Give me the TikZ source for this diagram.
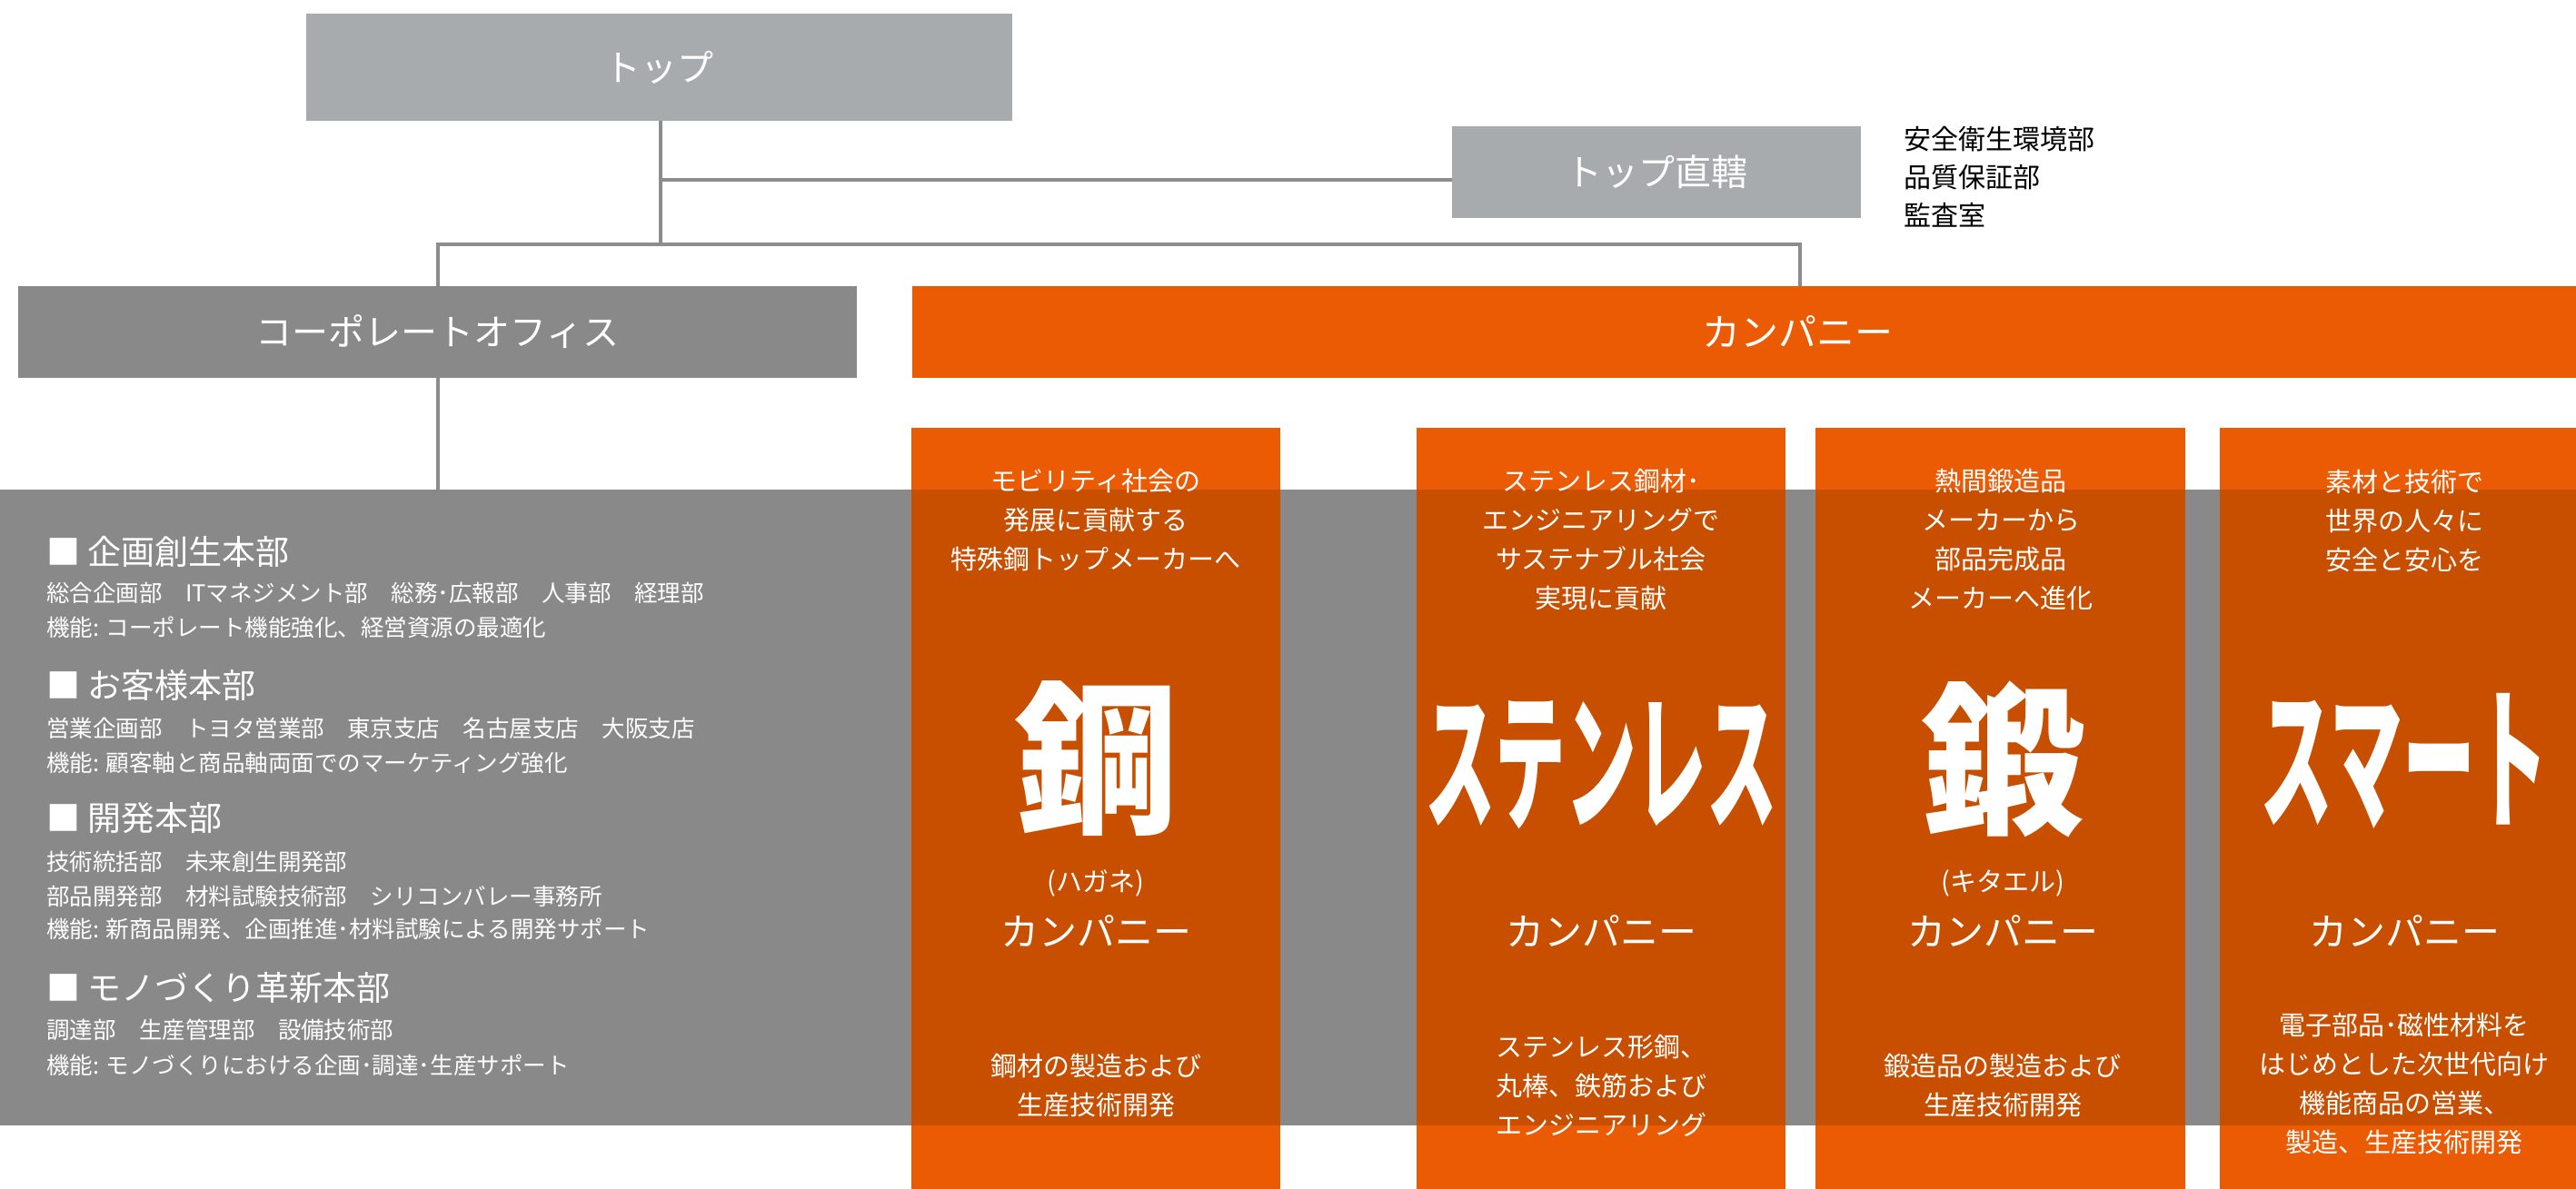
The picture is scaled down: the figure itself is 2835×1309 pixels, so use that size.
\documentclass[tikz,border=0pt]{standalone}
\usepackage{fontspec}
\setmainfont{Noto Sans CJK JP}
\definecolor{topgray}{HTML}{A7ABAE}
\definecolor{corpgray}{HTML}{898989}
\definecolor{linegray}{HTML}{8C8C8C}
\definecolor{orng}{HTML}{EA5B04}
\definecolor{darkorng}{HTML}{C84F00}
\tikzset{
  boxnode/.style={inner sep=0pt, outer sep=0pt, text=white},
  txt/.style={inner sep=0pt, outer sep=0pt, text=white},
  conn/.style={draw=linegray, line width=4pt},
  hd/.style={txt, anchor=west, font=\fontsize{37}{44}\selectfont},
  bd/.style={txt, anchor=west, font=\fontsize{25.5}{30}\selectfont},
  coltxt/.style={txt, align=center, font=\fontsize{29}{43}\selectfont},
  colname/.style={txt, font=\fontsize{42}{48}\selectfont},
  kana/.style={txt, font=\fontsize{29}{34}\selectfont},
  bigtxt/.style={txt, font=\fontsize{180}{180}\selectfont\bfseries},
}
\begin{document}
\begin{tikzpicture}[x=1pt,y=-1pt]
\useasboundingbox (0,0) rectangle (2835,1309);
\fill[white] (0,0) rectangle (2835,1309);

% top level boxes
\node[boxnode, fill=topgray, minimum width=777pt, minimum height=118pt,
  font=\fontsize{40}{48}\selectfont] (top) at (725.5,74) {トップ};
\node[boxnode, fill=topgray, minimum width=450pt, minimum height=101pt,
  font=\fontsize{40}{48}\selectfont] (direct) at (1823,189.5) {トップ直轄};
\node[boxnode, fill=corpgray, minimum width=923pt, minimum height=101pt,
  font=\fontsize{40}{48}\selectfont] (corp) at (481.5,365.5) {コーポレートオフィス};
\node[boxnode, fill=orng, minimum width=1831pt, minimum height=101pt] (comp) at (1919.5,365.5) {};
\node[txt, font=\fontsize{42}{48}\selectfont] (comptxt) at (1978,365.5) {カンパニー};

% list beside direct
\node[txt, text=black, anchor=west, font=\fontsize{30}{36}\selectfont] (d1) at (2095,153) {安全衛生環境部};
\node[txt, text=black, anchor=west, font=\fontsize{30}{36}\selectfont] (d2) at (2095,195) {品質保証部};
\node[txt, text=black, anchor=west, font=\fontsize{30}{36}\selectfont] (d3) at (2095,237) {監査室};

% gray panel
\node[boxnode, fill=corpgray, minimum width=2835pt, minimum height=700pt] (panel) at (1417.5,889) {};

% company columns
\node[boxnode, fill=orng, minimum width=406pt, minimum height=838pt] (c1) at (1206,890) {};
\node[boxnode, fill=orng, minimum width=406pt, minimum height=838pt] (c2) at (1762,890) {};
\node[boxnode, fill=orng, minimum width=407pt, minimum height=838pt] (c3) at (2201.5,890) {};
\node[boxnode, fill=orng, minimum width=392pt, minimum height=838pt] (c4) at (2639,890) {};
\fill[darkorng] (c1.west |- panel.north) rectangle (c1.east |- panel.south);
\fill[darkorng] (c2.west |- panel.north) rectangle (c2.east |- panel.south);
\fill[darkorng] (c3.west |- panel.north) rectangle (c3.east |- panel.south);
\fill[darkorng] (c4.west |- panel.north) rectangle (c4.east |- panel.south);

% connectors
\coordinate (j0) at (727,198);
\coordinate (j1) at (727,269);
\coordinate (cj) at (1981,269);
\draw[conn] (top.south -| j0) -- (j1);
\draw[conn] (j0) -- (j0 -| direct.west);
\draw[conn, line join=miter] (corp.north) |- (cj) -- (cj |- comp.north);
\draw[conn] (corp.south) -- (corp.south |- panel.north);

% left panel text
\node[hd] (h1) at (51,607) {■ 企画創生本部};
\node[bd] (h1a) at (51,653) {総合企画部　ITマネジメント部　総務･広報部　人事部　経理部};
\node[bd] (h1b) at (51,691) {機能: コーポレート機能強化、経営資源の最適化};
\node[hd] (h2) at (51,754) {■ お客様本部};
\node[bd] (h2a) at (51,802) {営業企画部　トヨタ営業部　東京支店　名古屋支店　大阪支店};
\node[bd] (h2b) at (51,840) {機能: 顧客軸と商品軸両面でのマーケティング強化};
\node[hd] (h3) at (51,901) {■ 開発本部};
\node[bd] (h3a) at (51,949) {技術統括部　未来創生開発部};
\node[bd] (h3b) at (51,987) {部品開発部　材料試験技術部　シリコンバレー事務所};
\node[bd] (h3c) at (51,1023) {機能: 新商品開発、企画推進･材料試験による開発サポート};
\node[hd] (h4) at (51,1087) {■ モノづくり革新本部};
\node[bd] (h4a) at (51,1134) {調達部　生産管理部　設備技術部};
\node[bd] (h4b) at (51,1173) {機能: モノづくりにおける企画･調達･生産サポート};

% column 1
\node[coltxt] (c1t) at (1206,573) {モビリティ社会の\\発展に貢献する\\特殊鋼トップメーカーへ};
\node[bigtxt] (c1b) at (1206,835) {鋼};
\node[kana] (c1k) at (1206,972) {(ハガネ)};
\node[colname] (c1n) at (1206,1025) {カンパニー};
\node[coltxt] (c1d) at (1206,1195.5) {鋼材の製造および\\生産技術開発};

% column 2
\node[coltxt] (c2t) at (1762,594) {ステンレス鋼材･\\エンジニアリングで\\サステナブル社会\\実現に貢献};
\node[txt] (c2b) at (1762,842) {\scalebox{0.47}[1]{\fontsize{165}{165}\selectfont\bfseries ステンレス}};
\node[colname] (c2n) at (1762,1025) {カンパニー};
\node[coltxt] (c2d) at (1762,1195) {ステンレス形鋼、\\丸棒、鉄筋および\\エンジニアリング};

% column 3
\node[coltxt] (c3t) at (2202,594) {熱間鍛造品\\メーカーから\\部品完成品\\メーカーへ進化};
\node[bigtxt] (c3b) at (2204,836) {鍛};
\node[kana] (c3k) at (2204,972) {(キタエル)};
\node[colname] (c3n) at (2204,1025) {カンパニー};
\node[coltxt] (c3d) at (2204,1195.5) {鍛造品の製造および\\生産技術開発};

% column 4
\node[coltxt] (c4t) at (2646,573) {素材と技術で\\世界の人々に\\安全と安心を};
\node[txt] (c4b) at (2646,838) {\scalebox{0.47}[1]{\fontsize{170}{170}\selectfont\bfseries スマート}};
\node[colname] (c4n) at (2646,1025) {カンパニー};
\node[coltxt] (c4d) at (2646,1193.5) {電子部品･磁性材料を\\はじめとした次世代向け\\機能商品の営業、\\製造、生産技術開発};
\end{tikzpicture}
\end{document}
